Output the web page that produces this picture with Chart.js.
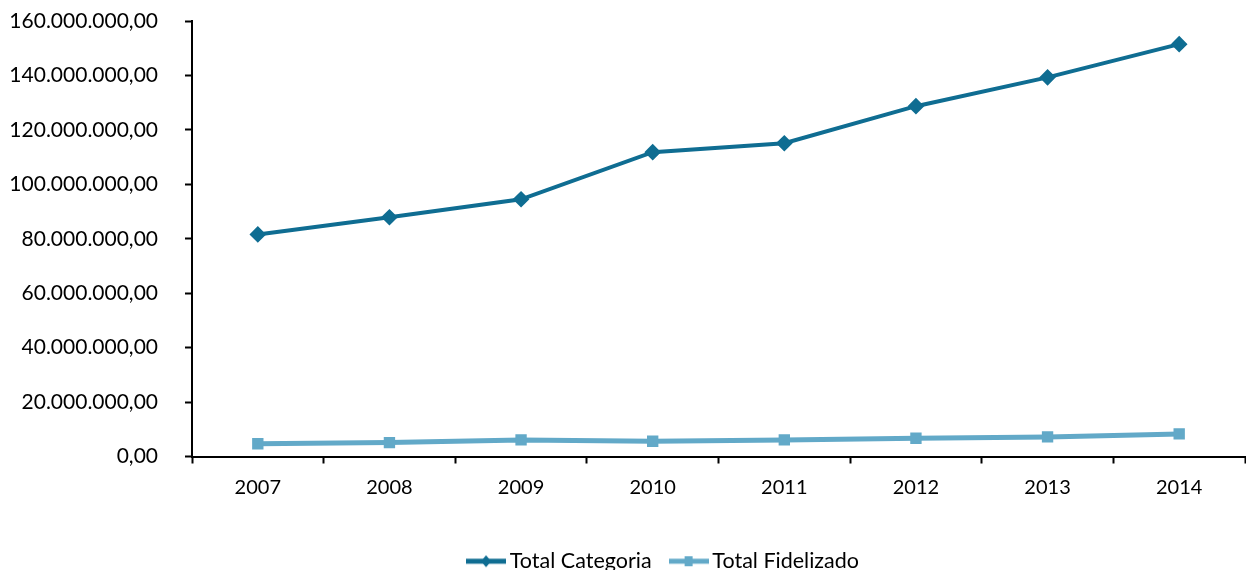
<!DOCTYPE html>
<html>
<head>
<meta charset="utf-8">
<script src="https://cdn.jsdelivr.net/npm/chart.js@4/dist/chart.umd.min.js"></script>
<style>
  html, body { margin: 0; padding: 0; background: #fff; overflow: hidden; }
  #wrap { width: 1246px; height: 582px; position: relative; }
</style>
</head>
<body>
<div id="wrap"><canvas id="chart"></canvas></div>
<script>
const years = ["2007", "2008", "2009", "2010", "2011", "2012", "2013", "2014"];
const totalCategoria = [81600000, 87900000, 94500000, 111800000, 115100000, 128700000, 139300000, 151500000];
const totalFidelizado = [4700000, 5100000, 6100000, 5600000, 6100000, 6700000, 7200000, 8300000];

const darkBlue = "#0f6d92";
const lightBlue = "#62a9c8";
const font = "Lato";

// 160000000 -> "160.000.000,00"
function fmt(v) {
    const whole = Math.round(v).toString().replace(/\B(?=(\d{3})+(?!\d))/g, ".");
    return whole + ",00";
}

// legend swatch: short line with the series marker on it
function swatch(color, shape) {
    const c = document.createElement("canvas");
    c.width = 40; c.height = 14;
    const g = c.getContext("2d");
    g.strokeStyle = color;
    g.lineWidth = 5;
    g.beginPath(); g.moveTo(0, 7); g.lineTo(40, 7); g.stroke();
    g.fillStyle = color;
    g.beginPath();
    if (shape === "diamond") {
        g.moveTo(20, 1); g.lineTo(25, 7); g.lineTo(20, 13); g.lineTo(15, 7);
    } else {
        g.rect(16, 2, 8, 10);
    }
    g.fill();
    return c;
}
const swatches = [swatch(darkBlue, "diamond"), swatch(lightBlue, "square")];

// the legend row sits a little right of centre
const legendShift = {
    id: "legendShift",
    afterLayout(ch) {
        if (ch.legend) ch.legend.left += 87;
    }
};

chart = new Chart(document.getElementById("chart"), {
    type: "line",
    data: {
        labels: years,
        datasets: [
            {
                label: "Total Categoria",
                data: totalCategoria,
                borderColor: darkBlue,
                backgroundColor: darkBlue,
                borderWidth: 4,
                pointStyle: "rectRot",
                pointRadius: 5.5,
                pointHoverRadius: 5.5,
                tension: 0
            },
            {
                label: "Total Fidelizado",
                data: totalFidelizado,
                borderColor: lightBlue,
                backgroundColor: lightBlue,
                borderWidth: 5,
                pointStyle: "rect",
                pointRadius: 4.5,
                pointHoverRadius: 4.5,
                tension: 0
            }
        ]
    },
    plugins: [legendShift],
    options: {
        responsive: true,
        maintainAspectRatio: false,
        animation: false,
        layout: { autoPadding: false, padding: { top: 0, right: 1, left: 0, bottom: 0 } },
        plugins: {
            tooltip: { enabled: false },
            legend: {
                position: "bottom",
                labels: {
                    usePointStyle: true,
                    pointStyleWidth: 26,
                    padding: 24,
                    color: "#000",
                    font: { family: font, size: 21.5 },
                    generateLabels: (ch) => ch.data.datasets.map((ds, i) => ({
                        text: ds.label,
                        datasetIndex: i,
                        pointStyle: swatches[i],
                        fillStyle: ds.borderColor,
                        strokeStyle: ds.borderColor,
                        lineWidth: 0,
                        fontColor: "#000"
                    }))
                }
            }
        },
        scales: {
            x: {
                offset: true,
                grid: {
                    offset: true,
                    drawOnChartArea: false,
                    drawTicks: true,
                    tickLength: 7,
                    tickWidth: 2,
                    tickColor: "#000"
                },
                border: { color: "#000", width: 2 },
                ticks: { color: "#000", padding: 12, font: { family: font, size: 20 } },
                afterFit: (s) => {
                    s.height = 70;
                    s.paddingLeft = 0;
                    s.paddingRight = 0;
                }
            },
            y: {
                min: 0,
                max: 160000000,
                grid: {
                    drawOnChartArea: false,
                    drawTicks: true,
                    tickLength: 7,
                    tickWidth: 2,
                    tickColor: "#000"
                },
                border: { color: "#000", width: 2 },
                ticks: {
                    stepSize: 20000000,
                    color: "#000",
                    padding: 27,
                    font: { family: font, size: 21 },
                    callback: (v) => fmt(v)
                },
                afterFit: (s) => {
                    s.width = 192;
                    s.paddingTop = 21;
                    s.paddingBottom = 12;
                }
            }
        }
    }
});
</script>
</body>
</html>
